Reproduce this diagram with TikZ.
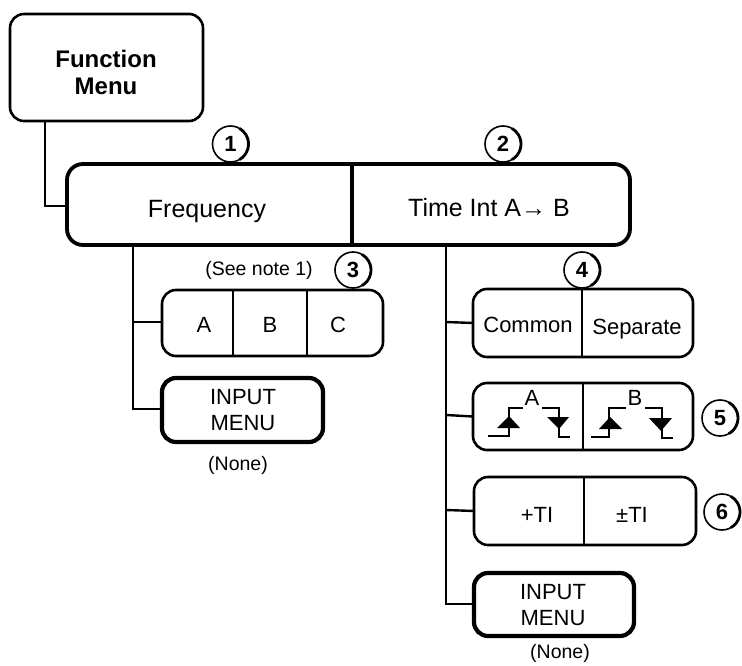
\documentclass[tikz,border=0pt]{standalone}
\usepackage{fontspec}
\setmainfont{Liberation Sans}
\newcommand{\fs}[1]{\fontsize{#1}{#1}\selectfont}
\newcommand{\numcirc}[4]{%
  \node[numc] (#1) at (#2,#3) {#4};
  \draw[line width=2.8pt] (#1.-60) arc[start angle=60,end angle=-60,radius=18];
}
\newcommand{\boxat}[7]{% name, style, x1,y1,x2,y2, radius
  \pgfmathsetmacro{\cxx}{(#3+#5)/2}\pgfmathsetmacro{\cyy}{(#4+#6)/2}
  \pgfmathsetmacro{\wdd}{#5-#3}\pgfmathsetmacro{\htt}{#6-#4}
  \node[#2,minimum width=\wdd pt,minimum height=\htt pt,rounded corners=#7pt] (#1) at (\cxx,\cyy) {};
}
\tikzset{
  box/.style={draw=black,fill=white,line width=2.6pt,inner sep=0pt,outer sep=0pt,rectangle},
  heavy/.style={box,line width=3.8pt},
  inputbox/.style={box,line width=4.2pt},
  lab/.style={inner sep=0pt,font=\fs{22}},
  small/.style={inner sep=0pt,font=\fs{19.5}},
  big/.style={inner sep=0pt,font=\fs{25}},
  numc/.style={circle,draw=black,fill=white,line width=1.6pt,minimum size=36pt,inner sep=0pt,outer sep=0pt,font=\fs{22}\bfseries},
  wire/.style={draw=black,line width=2.4pt,line join=miter},
  divide/.style={draw=black,line width=2.3pt},
  heavydiv/.style={draw=black,line width=3.8pt},
  sig/.style={draw=black,line width=1.9pt},
  tri/.style={fill=black},
}
\begin{document}
\begin{tikzpicture}[x=1pt,y=-1pt]
\useasboundingbox (0,0) rectangle (742,666);
\fill[white] (0,0) rectangle (742,666);

% top box and trunk
\boxat{func}{box}{10}{14}{203}{121}{14}
\node[inner sep=0pt,font=\fs{24}\bfseries,align=center] (functxt) at (106,72) {Function\\[3pt]Menu};
\coordinate (t0) at (45,121);
\coordinate (t1) at (133,245);
\coordinate (t2) at (446,245);

\draw[wire] (t0) |- ([yshift=-1.5pt]66,204.5) coordinate (t0e);
\draw[wire] (t1) |- (162,409);
\draw[wire] (t1 |- 0,322) -- (162,322);
\draw[wire] (t2) |- (474,604);

\boxat{main}{heavy}{67}{164}{630}{245}{16}
\draw[heavydiv] (main.north -| 352,0) -- (main.south -| 352,0);
\node[big] (freq) at (207,211) {Frequency};
\node[big] (time) at (489,208) {Time Int A{\bfseries→} B};
\numcirc{n1}{230.5}{144}{1}
\numcirc{n2}{503}{144}{2}

% left group
\node[small] (note) at (259,270) {(See note 1)};
\boxat{abc}{box}{162}{290}{383}{356}{14}
\draw[divide] (abc.north -| 233,0) -- (abc.south -| 233,0);
\draw[divide] (abc.north -| 307,0) -- (abc.south -| 307,0);
\node[lab] (la) at (204,325) {A};
\node[lab] (lb) at (270,325) {B};
\node[lab] (lc) at (338,325) {C};
\numcirc{n3}{353}{270}{3}
\boxat{inl}{inputbox}{162}{378}{323}{442}{14}
\node[lab,align=center] (inltxt) at (243,410) {INPUT\\[4pt]MENU};
\node[small] (nonel) at (238,465) {(None)};

% right group
\boxat{com}{box}{473}{289}{693}{357}{14}
\draw[divide] (com.north -| 582,0) -- (com.south -| 582,0);
\node[lab] (common) at (528,325) {Common};
\node[lab] (separate) at (637,329) {Separate};
\numcirc{n4}{582}{270}{4}

\boxat{trg}{box}{473}{383}{693}{450}{14}
\draw[divide] (trg.north -| 583,0) -- (trg.south -| 583,0);
\node[lab] (ta) at (532,398) {A};
\node[lab] (tb) at (635,398) {B};
% trigger slope symbols
\draw[sig] (488,436) -| (509,408) -- (523,408);
\fill[tri] (509,416) -- (497,428) -- (520,428) -- cycle;
\draw[sig] (542,408) -| (559,437) -- (570,437);
\fill[tri] (547,417) -- (569,417) -- (559,429) -- cycle;
\draw[sig] (591,437) -| (609,408) -- (626,408);
\fill[tri] (610,417) -- (599,429) -- (622,429) -- cycle;
\draw[sig] (645,408) -| (662,438) -- (673,438);
\fill[tri] (649,418) -- (672,418) -- (661,431) -- cycle;
\numcirc{n5}{720}{418}{5}

\boxat{ti}{box}{474}{477}{696}{545}{14}
\draw[divide] (ti.north -| 584,0) -- (ti.south -| 584,0);
\node[lab] (pti) at (537,515) {+TI};
\node[lab] (mti) at (632,515) {±TI};
\numcirc{n6}{722}{512}{6}

\boxat{inr}{inputbox}{474}{573}{634}{636}{14}
\node[lab,align=center] (inrtxt) at (553,605) {INPUT\\[4pt]MENU};
\node[small] (noner) at (560,653) {(None)};

% right branches
\draw[wire] (t2 |- 0,322) -- (com.west);
\draw[wire] (t2 |- 0,415) -- (trg.west);
\draw[wire] (t2 |- 0,510) -- (ti.west);
\end{tikzpicture}
\end{document}
